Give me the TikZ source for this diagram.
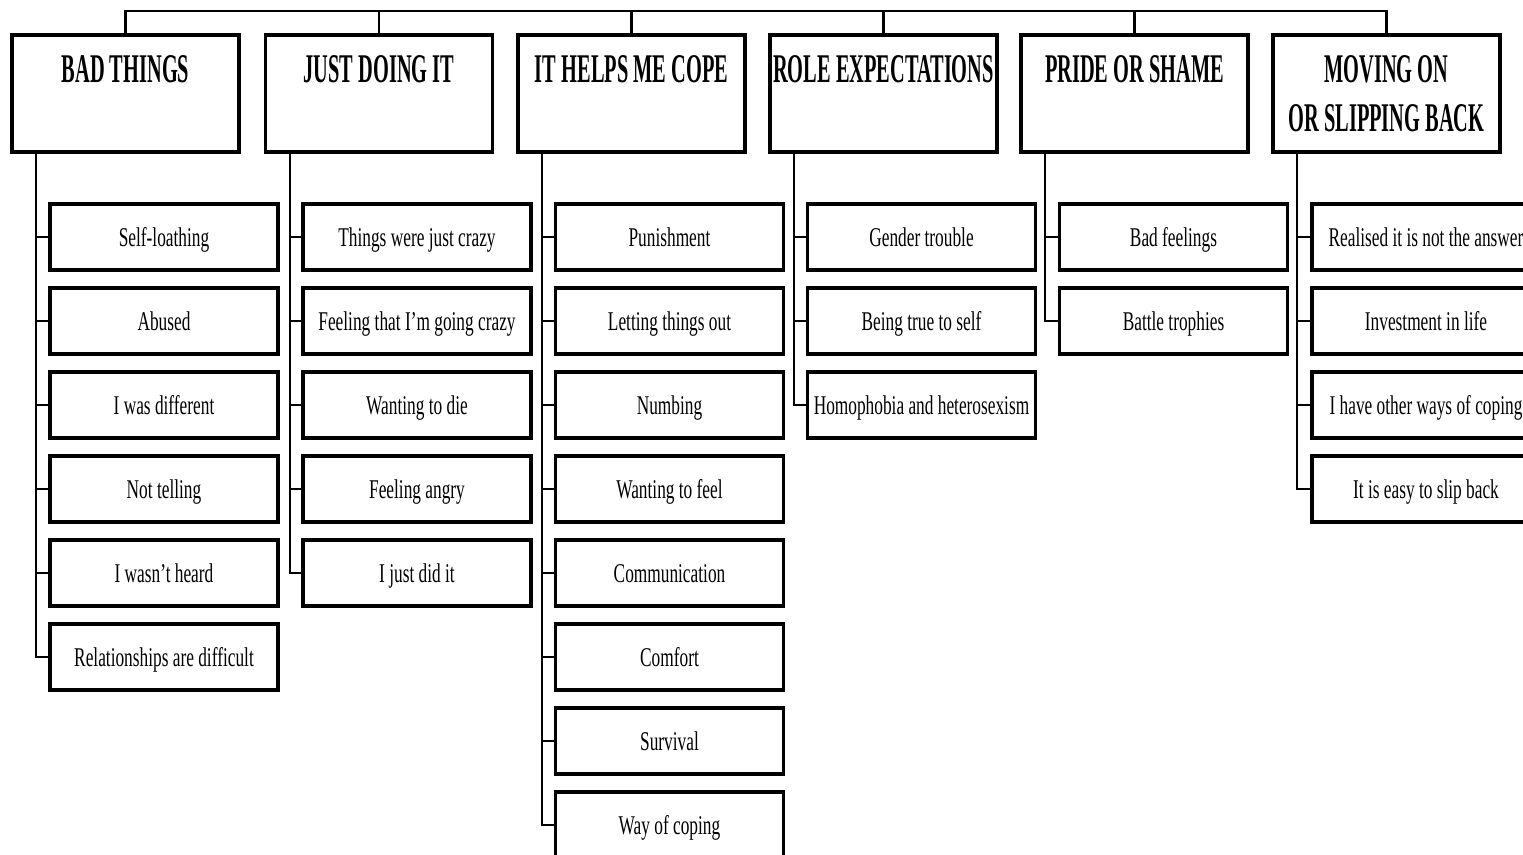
\documentclass[tikz,border=0pt]{standalone}
\usepackage{fontspec}
\setmainfont{Liberation Serif}[FakeStretch=0.64]
\newfontfamily\headfont{Liberation Serif}[FakeStretch=0.5]
\usetikzlibrary{positioning}

\begin{document}
\begin{tikzpicture}[line width=0.6pt,
          head/.style={draw, line width=0.9pt, minimum width=2.27cm, minimum height=1.17cm,
                       inner sep=0pt, align=center,
                       font=\headfont\bfseries\fontsize{11.6}{14}\selectfont},
          item/.style={draw, line width=0.9pt, minimum width=2.28cm, minimum height=0.66cm,
                       inner sep=0pt, text height=7.6pt, text depth=2pt,
                       font=\fontsize{7.7}{9}\selectfont}]
        \useasboundingbox (0,0) rectangle (15.23,-8.55);
        \clip (0,0) rectangle (15.23,-8.55);
        % themes
        \node[head] (bad)   at (1.255,-0.935)  {BAD THINGS\\\mbox{}};
        \node[head] (just)  at (3.79,-0.935)   {JUST DOING IT\\\mbox{}};
        \node[head] (cope)  at (6.315,-0.935)  {IT HELPS ME COPE\\\mbox{}};
        \node[head] (role)  at (8.835,-0.935)  {ROLE EXPECTATIONS\\\mbox{}};
        \node[head] (pride) at (11.345,-0.935) {PRIDE OR SHAME\\\mbox{}};
        \node[head] (move)  at (13.865,-0.935) {MOVING ON\\OR SLIPPING BACK};
        % sub-themes
        \node[item] (bad1) at (1.64,-2.37) {Self-loathing};
        \node[item] (bad2) at (1.64,-3.21) {Abused};
        \node[item] (bad3) at (1.64,-4.05) {I was different};
        \node[item] (bad4) at (1.64,-4.89) {Not telling};
        \node[item] (bad5) at (1.64,-5.73) {I wasn't heard};
        \node[item] (bad6) at (1.64,-6.57) {Relationships are difficult};
        \node[item] (just1) at (4.17,-2.37) {Things were just crazy};
        \node[item] (just2) at (4.17,-3.21) {Feeling that I'm going crazy};
        \node[item] (just3) at (4.17,-4.05) {Wanting to die};
        \node[item] (just4) at (4.17,-4.89) {Feeling angry};
        \node[item] (just5) at (4.17,-5.73) {I just did it};
        \node[item] (cope1) at (6.695,-2.37) {Punishment};
        \node[item] (cope2) at (6.695,-3.21) {Letting things out};
        \node[item] (cope3) at (6.695,-4.05) {Numbing};
        \node[item] (cope4) at (6.695,-4.89) {Wanting to feel};
        \node[item] (cope5) at (6.695,-5.73) {Communication};
        \node[item] (cope6) at (6.695,-6.57) {Comfort};
        \node[item] (cope7) at (6.695,-7.41) {Survival};
        \node[item] (cope8) at (6.695,-8.25) {Way of coping};
        \node[item] (role1) at (9.215,-2.37) {Gender trouble};
        \node[item] (role2) at (9.215,-3.21) {Being true to self};
        \node[item] (role3) at (9.215,-4.05) {Homophobia and heterosexism};
        \node[item] (pride1) at (11.735,-2.37) {Bad feelings};
        \node[item] (pride2) at (11.735,-3.21) {Battle trophies};
        \node[item] (move1) at (14.26,-2.37) {Realised it is not the answer};
        \node[item] (move2) at (14.26,-3.21) {Investment in life};
        \node[item] (move3) at (14.26,-4.05) {I have other ways of coping};
        \node[item] (move4) at (14.26,-4.89) {It is easy to slip back};
        % top bar
        \coordinate (top) at (0,-0.11);
        \draw (bad.north) |- (top -| move.north) -- (move.north);
        \draw (just.north) -- (just.north |- top);
        \draw (cope.north) -- (cope.north |- top);
        \draw (role.north) -- (role.north |- top);
        \draw (pride.north) -- (pride.north |- top);
        % trunks
        \draw ([xshift=0.26cm]bad.south west) |- (bad6.west);
        \draw ([xshift=0.26cm]just.south west) |- (just5.west);
        \draw ([xshift=0.26cm]cope.south west) |- (cope8.west);
        \draw ([xshift=0.26cm]role.south west) |- (role3.west);
        \draw ([xshift=0.26cm]pride.south west) |- (pride2.west);
        \draw ([xshift=0.26cm]move.south west) |- (move4.west);
        % ticks
        \draw (bad1.west) -- ++(-0.12,0);
        \draw (bad2.west) -- ++(-0.12,0);
        \draw (bad3.west) -- ++(-0.12,0);
        \draw (bad4.west) -- ++(-0.12,0);
        \draw (bad5.west) -- ++(-0.12,0);
        \draw (just1.west) -- ++(-0.12,0);
        \draw (just2.west) -- ++(-0.12,0);
        \draw (just3.west) -- ++(-0.12,0);
        \draw (just4.west) -- ++(-0.12,0);
        \draw (cope1.west) -- ++(-0.12,0);
        \draw (cope2.west) -- ++(-0.12,0);
        \draw (cope3.west) -- ++(-0.12,0);
        \draw (cope4.west) -- ++(-0.12,0);
        \draw (cope5.west) -- ++(-0.12,0);
        \draw (cope6.west) -- ++(-0.12,0);
        \draw (cope7.west) -- ++(-0.12,0);
        \draw (role1.west) -- ++(-0.12,0);
        \draw (role2.west) -- ++(-0.12,0);
        \draw (pride1.west) -- ++(-0.12,0);
        \draw (move1.west) -- ++(-0.12,0);
        \draw (move2.west) -- ++(-0.12,0);
        \draw (move3.west) -- ++(-0.12,0);
\end{tikzpicture}
\end{document}
